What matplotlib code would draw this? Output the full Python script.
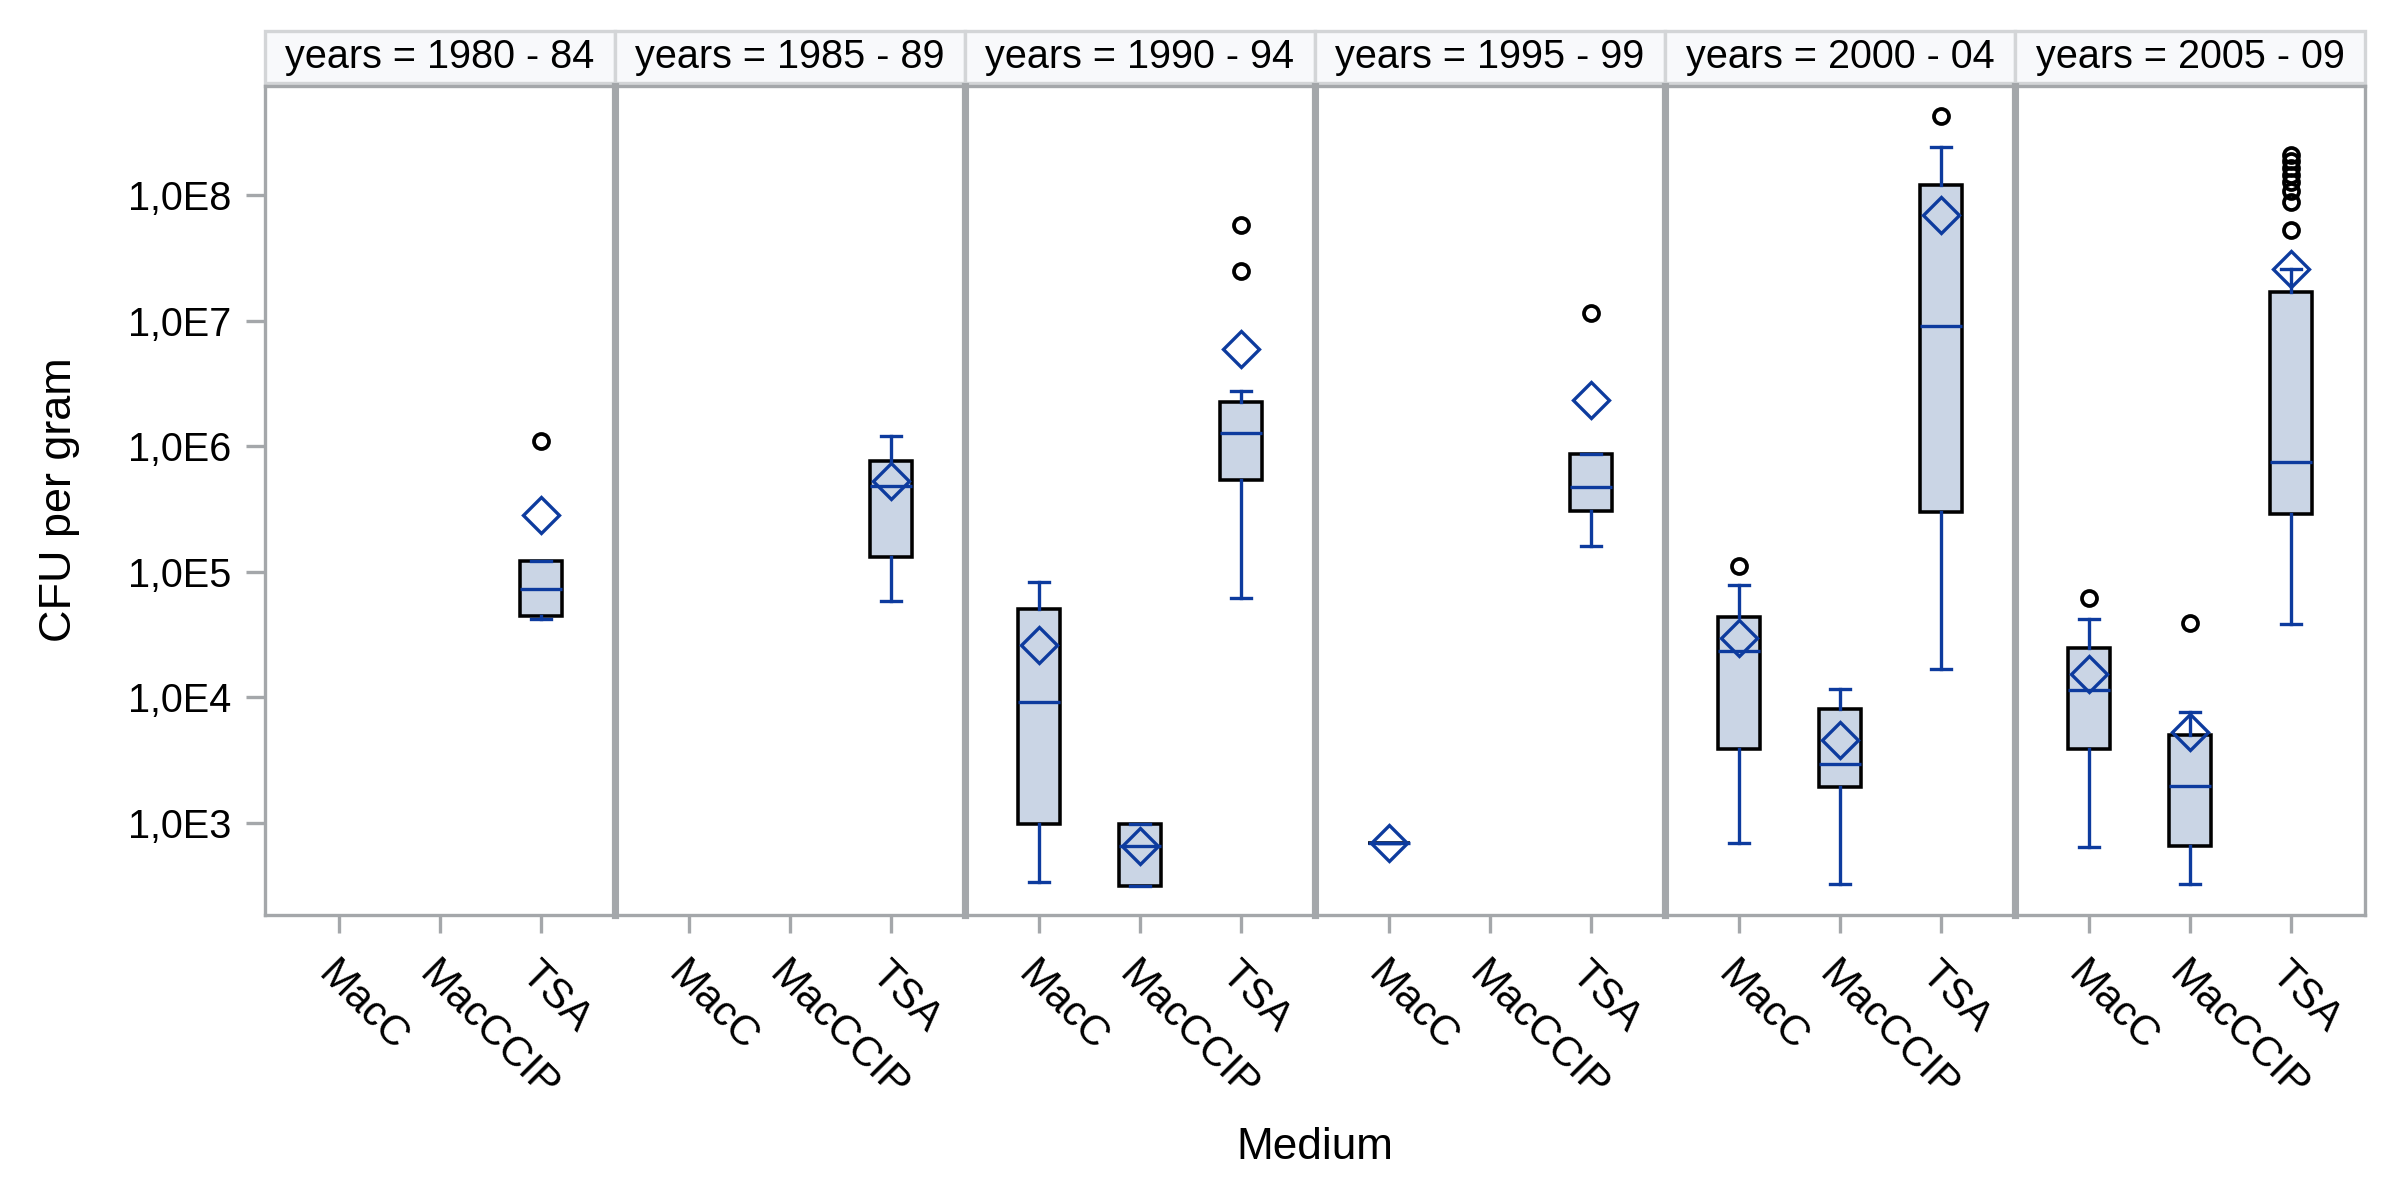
import math

import matplotlib
matplotlib.use("Agg")
import matplotlib.pyplot as plt
from matplotlib.patches import Rectangle
from matplotlib.ticker import NullLocator


plt.rcParams["font.family"] = ["Liberation Sans", "DejaVu Sans"]

PERIODS = ["1980 - 84", "1985 - 89", "1990 - 94", "1995 - 99", "2000 - 04", "2005 - 09"]
MEDIA = ["MacC", "MacCCIP", "TSA"]

# box statistics, one row per period: [MacC, MacCCIP, TSA]
WHISLO = [
    [None, None, 4.25e4],
    [None, None, 5.9e4],
    [339, 312, 6.19e4],
    [690, None, 1.60e5],
    [693, 324, 1.67e4],
    [645, 324, 3.82e4],
]
Q1 = [
    [None, None, 4.48e4],
    [None, None, 1.31e5],
    [986, 312, 5.45e5],
    [690, None, 3.05e5],
    [3.87e3, 1.94e3, 3.02e5],
    [3.85e3, 652, 2.9e5],
]
MEDIAN = [
    [None, None, 7.3e4],
    [None, None, 4.85e5],
    [9.18e3, 653, 1.29e6],
    [690, None, 4.78e5],
    [2.34e4, 2.96e3, 9.04e6],
    [1.14e4, 1.97e3, 7.5e5],
]
Q3 = [
    [None, None, 1.22e5],
    [None, None, 7.66e5],
    [5.09e4, 986, 2.24e6],
    [690, None, 8.71e5],
    [4.35e4, 8.1e3, 1.22e8],
    [2.46e4, 5.0e3, 1.71e7],
]
WHISHI = [
    [None, None, 1.22e5],
    [None, None, 1.20e6],
    [8.37e4, 986, 2.78e6],
    [690, None, 8.71e5],
    [7.9e4, 1.16e4, 2.44e8],
    [4.2e4, 7.6e3, 2.6e7],
]
MEAN = [
    [None, None, 2.83e5],
    [None, None, 5.27e5],
    [2.62e4, 653, 5.94e6],
    [690, None, 2.33e6],
    [3.0e4, 4.57e3, 6.95e7],
    [1.54e4, 5.3e3, 2.6e7],
]
OUTLIERS = [
    [[], [], [1.11e6]],
    [[], [], []],
    [[], [], [2.49e7, 5.84e7]],
    [[], [], [1.15e7]],
    [[1.11e5], [], [4.32e8]],
    [[6.2e4], [3.9e4], [5.3e7, 8.8e7, 1.08e8, 1.29e8, 1.46e8, 1.65e8, 1.87e8, 2.11e8]],
]

BLUE = "#0d3b9e"
FILL = "#cad5e5"
FRAME = "#a4a7aa"

fig, axes = plt.subplots(1, 6, figsize=(8, 1202 / 300), dpi=300, sharey=True,
                         gridspec_kw=dict(wspace=0))
fig.subplots_adjust(left=0.1104, right=0.9854, bottom=0.2388, top=0.9285)

for i, ax in enumerate(axes):
    stats, pos = [], []
    for j in range(len(MEDIA)):
        if MEDIAN[i][j] is None:
            continue
        stats.append(dict(whislo=WHISLO[i][j], q1=Q1[i][j], med=MEDIAN[i][j], q3=Q3[i][j],
                          whishi=WHISHI[i][j], mean=MEAN[i][j], fliers=OUTLIERS[i][j]))
        pos.append(j)
    ax.bxp(
        stats, positions=pos, widths=0.41, capwidths=0.19, showmeans=True,
        patch_artist=True, manage_ticks=False,
        boxprops=dict(facecolor=FILL, edgecolor="black", linewidth=0.85),
        medianprops=dict(color=BLUE, linewidth=0.8),
        whiskerprops=dict(color=BLUE, linewidth=0.8),
        capprops=dict(color=BLUE, linewidth=0.8),
        meanprops=dict(marker="D", markerfacecolor="none", markeredgecolor=BLUE,
                       markersize=6, markeredgewidth=0.8),
        flierprops=dict(marker="o", markerfacecolor="none", markeredgecolor="black",
                        markersize=3.6, markeredgewidth=0.9),
    )

    ax.set_yscale("log")
    ax.set_xlim(-0.733, 2.733)
    ax.set_xticks(range(len(MEDIA)))
    ax.set_xticklabels(MEDIA)
    for lab in ax.get_xticklabels():
        lab.set_rotation(-45)
        lab.set_ha("left")
        lab.set_va("top")
        lab.set_rotation_mode("anchor")
    ax.tick_params(axis="x", length=4.3, width=0.8, color=FRAME, pad=5, labelsize=10)
    for sp in ax.spines.values():
        sp.set_color(FRAME)
        sp.set_linewidth(0.8)
    # neighbouring frames touch, so the inner dividers look doubled
    if i > 0:
        ax.spines["left"].set_linewidth(1.7)
    if i < len(axes) - 1:
        ax.spines["right"].set_linewidth(1.7)

    ax.add_patch(Rectangle((0, 1.0036), 1, 0.0627, transform=ax.transAxes,
                           facecolor="#f8f9fb", edgecolor="#d3d5d7", linewidth=0.8,
                           clip_on=False))
    ax.text(0.5, 1.0355, "years = " + PERIODS[i], transform=ax.transAxes,
            ha="center", va="center", fontsize=9.5)
    if i > 0:
        ax.tick_params(axis="y", which="both", left=False, labelleft=False)

ax0 = axes[0]
ax0.set_ylim(10 ** 2.266, 10 ** 8.873)
ax0.yaxis.set_minor_locator(NullLocator())
decades = list(range(3, 9))
ax0.set_yticks([10.0 ** k for k in decades])
ax0.set_yticklabels([f"1,0E{k}" for k in decades])
ax0.tick_params(axis="y", length=4.6, width=0.8, color=FRAME, pad=3.4, labelsize=9.5)

fig.text(0.025, 0.584, "CFU per gram", rotation=90, ha="center", va="center", fontsize=10.8)
fig.text(0.548, 0.045, "Medium", ha="center", va="center", fontsize=10.6)

fig.savefig("out.png", dpi=300, facecolor="white")
